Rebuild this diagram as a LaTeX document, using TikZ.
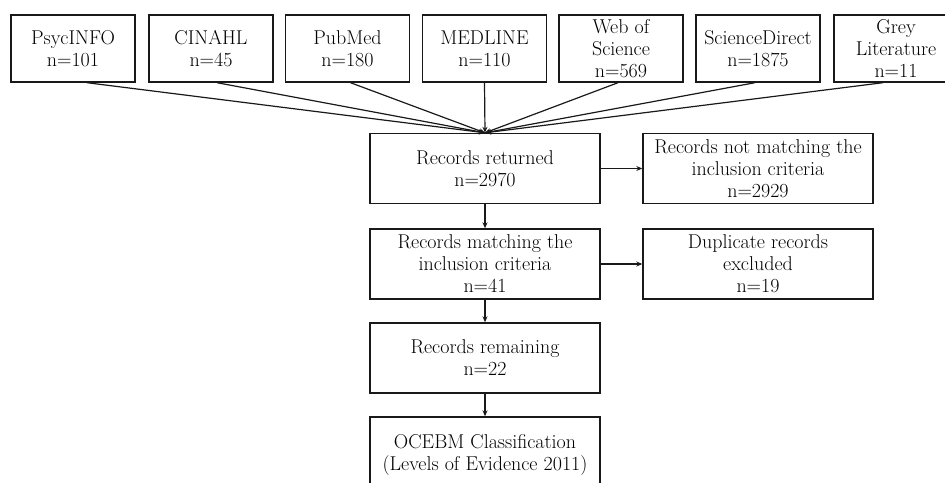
\documentclass[tikz,border=0pt]{standalone}
\usetikzlibrary{arrows.meta,calc}
\begin{document}
\begin{tikzpicture}[x=1pt,y=-1pt,
  box/.style={draw=black!90, line width=1.4pt, rectangle, align=center, inner sep=0pt,
    font=\fontsize{20}{22}\selectfont},
  topbox/.style={box, minimum width=124pt, minimum height=67pt},
  midbox/.style={box, minimum width=230pt, minimum height=70pt},
  conn/.style={line width=1.2pt, draw=black!90},
  arr/.style={conn, -{Stealth[length=6pt,width=5pt]}}]
\useasboundingbox (0,0) rectangle (945,482);
\clip (0,0) rectangle (945,482);
\node[topbox] (psy) at (73,48.5) {PsycINFO\\n=101};
\node[topbox] (cin) at (211,48.5) {CINAHL\\n=45};
\node[topbox] (pub) at (347.5,48.5) {PubMed\\n=180};
\node[topbox] (med) at (484.5,48.5) {MEDLINE\\n=110};
\node[topbox] (wos) at (621,48.5) {Web of\\Science\\n=569};
\node[topbox] (sd) at (758,48.5) {ScienceDirect\\n=1875};
\node[topbox] (grey) at (896,48.5) {Grey\\Literature\\n=11};

\node[midbox] (ret) at (485,168.5) {Records returned\\n=2970};
\node[midbox] (match) at (485,264) {Records matching the\\inclusion criteria\\n=41};
\node[midbox] (rem) at (485,358) {Records remaining\\n=22};
\node[midbox, minimum height=76pt] (oce) at (485,455) {OCEBM Classification\\(Levels of Evidence 2011)};

\node[midbox] (notm) at (758,168.5) {Records not matching the\\inclusion criteria\\n=2929};
\node[midbox] (dup) at (758,264) {Duplicate records\\excluded\\n=19};

\foreach \s/\dx in {psy/14,cin/6,pub/3,med/0,wos/-3,sd/-3,grey/-13}
  \draw[arr] ($(\s.south)+(\dx,0)$) -- (ret.north);
\draw[arr] (ret) -- (notm);
\draw[arr] (match) -- (dup);
\draw[arr] (ret) -- (match);
\draw[arr] (match) -- (rem);
\draw[arr] (rem) -- (oce);
\end{tikzpicture}
\end{document}
